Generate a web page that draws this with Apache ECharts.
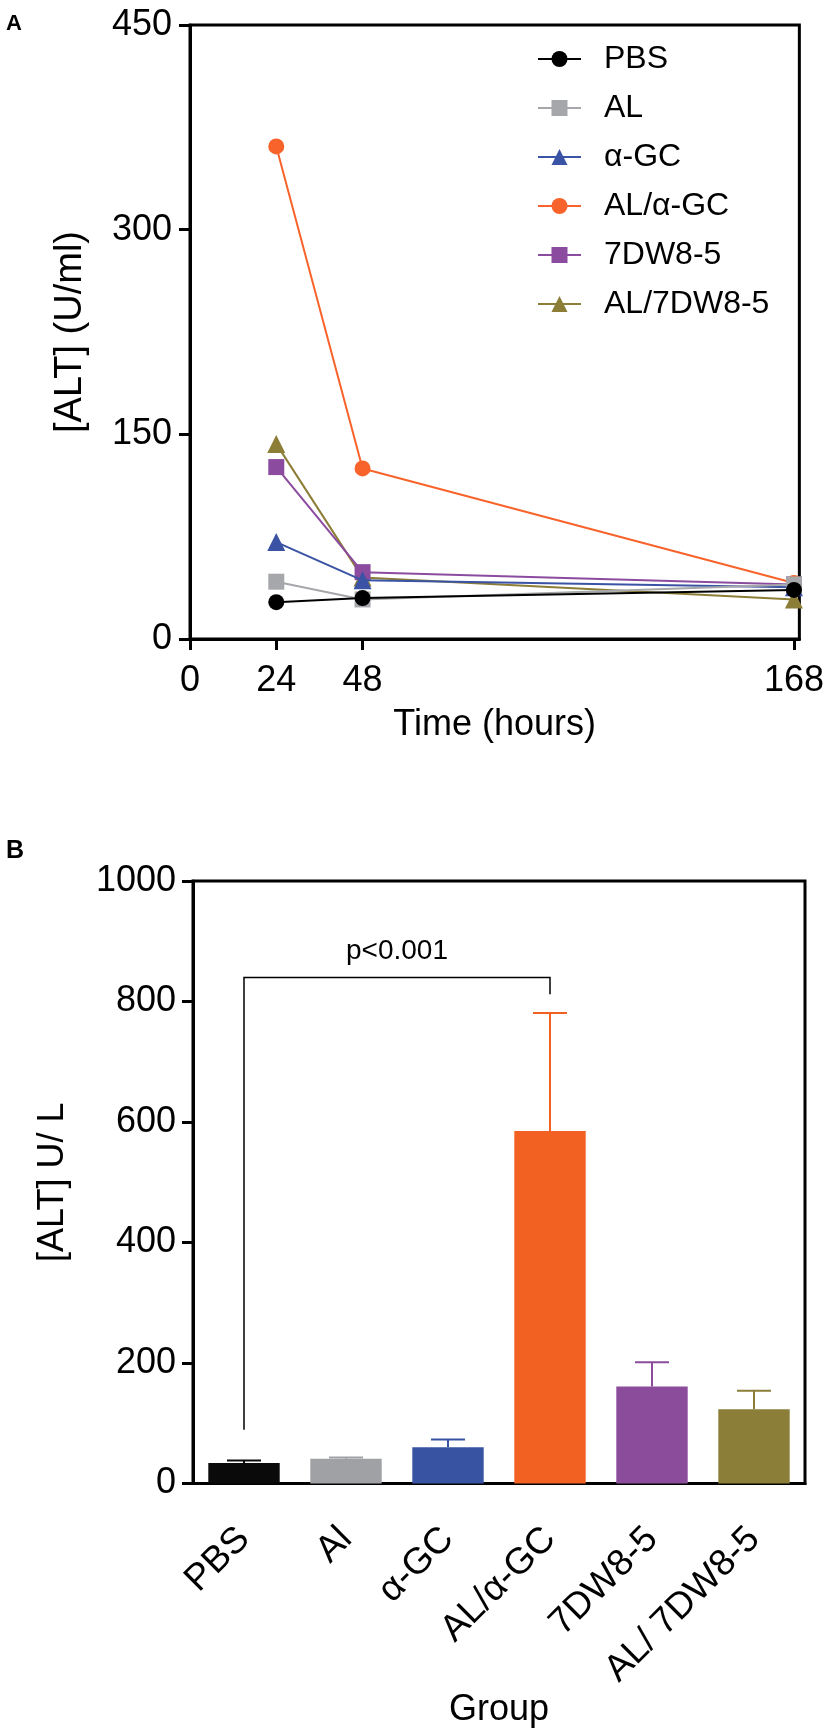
<!DOCTYPE html>
<html>
<head>
<meta charset="utf-8">
<script src="https://cdn.jsdelivr.net/npm/echarts@6/dist/echarts.min.js"></script>
<style>
  html, body { margin: 0; padding: 0; background: #fff; }
  #main { width: 827px; height: 1729px; }
</style>
</head>
<body>
<div id="main"></div>
<script type="text/javascript">
    // panel A: ALT over time
    var hours = [24, 48, 168];
    var hourTicks = [0, 24, 48, 168];
    var lineNames = ['PBS', 'AL', 'α-GC', 'AL/α-GC', '7DW8-5', 'AL/7DW8-5'];
    var pbsLine = [27, 30, 36];
    var alLine = [42, 29, 40];
    var gcLine = [71, 43, 38];
    var alGcLine = [361, 125, 41];
    var dwLine = [126, 49, 40];
    var alDwLine = [143, 45, 29];
    var lineColors = ['#000000', '#a5a7aa', '#3a53a4', '#f7632a', '#8b4b9f', '#8c7d37'];
    var lineSymbols = ['circle', 'rect', 'triangle', 'circle', 'rect', 'triangle'];

    // panel B: ALT per group
    var groups = ['PBS', 'Al', 'α-GC', 'AL/α-GC', '7DW8-5', 'AL/ 7DW8-5'];
    var groupMeans = [34, 41, 60, 585, 161, 123];
    var groupErrors = [4, 2, 13, 196, 40, 31];
    var barColors = ['#0a0a0a', '#a0a1a4', '#3953a3', '#f26122', '#8b4c9c', '#8b7e38'];
    // significance bracket: from group, to group, top, left leg end, right leg end
    var bracket = [[0, 3, 840, 89, 812]];
    var bracketText = 'p<0.001';

    var FONT = 'Liberation Sans, Arial, sans-serif';
    var lineData = [pbsLine, alLine, gcLine, alGcLine, dwLine, alDwLine];

    var myChart = echarts.init(document.getElementById('main'));

    var series = [];
    lineNames.forEach(function (name, i) {
        series.push({
            name: name,
            type: 'line',
            xAxisIndex: 0,
            yAxisIndex: 0,
            z: 10 - i,
            symbol: lineSymbols[i],
            symbolSize: lineSymbols[i] === 'triangle' ? 18 : 16,
            color: lineColors[i],
            lineStyle: { width: 2, color: lineColors[i] },
            itemStyle: { color: lineColors[i] },
            data: hours.map(function (h, k) { return [h, lineData[i][k]]; })
        });
    });

    series.push({
        type: 'bar',
        xAxisIndex: 1,
        yAxisIndex: 1,
        barWidth: '70%',
        data: groupMeans.map(function (v, i) {
            return { value: v, itemStyle: { color: barColors[i] } };
        })
    });

    // error bars (upper only)
    series.push({
        type: 'custom',
        xAxisIndex: 1,
        yAxisIndex: 1,
        z: 1,
        data: groupMeans.map(function (v, i) { return [i, v, v + groupErrors[i]]; }),
        renderItem: function (params, api) {
            var idx = api.value(0);
            var low = api.coord([idx, api.value(1)]);
            var high = api.coord([idx, api.value(2)]);
            var c = barColors[idx];
            var half = 17;
            return {
                type: 'group',
                children: [
                    { type: 'line', shape: { x1: low[0], y1: low[1], x2: high[0], y2: high[1] },
                      style: { stroke: c, lineWidth: 2 } },
                    { type: 'line', shape: { x1: high[0] - half, y1: high[1], x2: high[0] + half, y2: high[1] },
                      style: { stroke: c, lineWidth: 2 } }
                ]
            };
        }
    });

    // significance bracket
    series.push({
        type: 'custom',
        xAxisIndex: 1,
        yAxisIndex: 1,
        data: bracket,
        renderItem: function (params, api) {
            var a = api.coord([api.value(0), api.value(2)]);
            var b = api.coord([api.value(1), api.value(2)]);
            var aLow = api.coord([api.value(0), api.value(3)]);
            var bLow = api.coord([api.value(1), api.value(4)]);
            return {
                type: 'group',
                children: [
                    { type: 'polyline',
                      shape: { points: [[aLow[0], aLow[1]], [a[0], a[1]], [b[0], b[1]], [bLow[0], bLow[1]]] },
                      style: { stroke: '#000', lineWidth: 1.5, fill: null } },
                    { type: 'text',
                      style: { text: bracketText, x: (a[0] + b[0]) / 2, y: a[1] - 12,
                               textAlign: 'center', textVerticalAlign: 'bottom',
                               font: '28px ' + FONT, fill: '#000' } }
                ]
            };
        }
    });

    var axisLine = { lineStyle: { color: '#000', width: 3 } };

    option = {
        animation: false,
        backgroundColor: '#fff',
        textStyle: { fontFamily: FONT, color: '#000' },
        title: [
            { text: 'A', left: 1, top: 8, textStyle: { fontSize: 22, fontWeight: 'bold', fontFamily: FONT, color: '#000' } },
            { text: 'B', left: 1, top: 834, textStyle: { fontSize: 25, fontWeight: 'bold', fontFamily: FONT, color: '#000' } }
        ],
        legend: {
            data: lineNames,
            orient: 'vertical',
            left: 532,
            top: 38,
            itemWidth: 43,
            itemHeight: 20,
            itemGap: 17,
            textStyle: { fontSize: 32, fontFamily: FONT, color: '#000', padding: [0, 0, 0, 18] }
        },
        grid: [
            { left: 190, top: 25, width: 612, height: 614, show: true, borderColor: '#000', borderWidth: 3 },
            { left: 193, top: 881, width: 612, height: 611, show: true, borderColor: '#000', borderWidth: 3 }
        ],
        xAxis: [
            {
                gridIndex: 0,
                type: 'value',
                min: 0,
                max: 169.5,
                name: 'Time (hours)',
                nameLocation: 'middle',
                nameGap: 68,
                nameTextStyle: { fontSize: 36, fontFamily: FONT, color: '#000' },
                axisLine: axisLine,
                axisTick: { show: true, length: 11, lineStyle: { color: '#000', width: 3 }, customValues: hourTicks },
                axisLabel: { fontSize: 36, color: '#000', margin: 24, customValues: hourTicks },
                splitLine: { show: false }
            },
            {
                gridIndex: 1,
                type: 'category',
                data: groups,
                name: 'Group',
                nameLocation: 'middle',
                nameGap: 198,
                nameTextStyle: { fontSize: 36, fontFamily: FONT, color: '#000' },
                axisLine: axisLine,
                axisTick: { alignWithLabel: true, length: 11, lineStyle: { color: '#000', width: 3 } },
                axisLabel: { fontSize: 37, color: '#000', rotate: 45, margin: 50, interval: 0 }
            }
        ],
        yAxis: [
            {
                gridIndex: 0,
                type: 'value',
                min: 0,
                max: 450,
                interval: 150,
                name: '[ALT] (U/ml)',
                nameLocation: 'middle',
                nameGap: 100,
                nameTextStyle: { fontSize: 38, fontFamily: FONT, color: '#000' },
                axisLine: { show: true, lineStyle: { color: '#000', width: 3 } },
                axisTick: { show: true, length: 11, lineStyle: { color: '#000', width: 3 } },
                axisLabel: { fontSize: 36, color: '#000', margin: 18 },
                splitLine: { show: false }
            },
            {
                gridIndex: 1,
                type: 'value',
                min: 0,
                max: 1000,
                interval: 200,
                name: '[ALT] U/ L',
                nameLocation: 'middle',
                nameGap: 122,
                nameTextStyle: { fontSize: 36, fontFamily: FONT, color: '#000' },
                axisLine: { show: true, lineStyle: { color: '#000', width: 3 } },
                axisTick: { show: true, length: 11, lineStyle: { color: '#000', width: 3 } },
                axisLabel: { fontSize: 36, color: '#000', margin: 17, formatter: function (v) { return String(v); } },
                splitLine: { show: false }
            }
        ],
        series: series
    };
    myChart.setOption(option);
</script>
</body>
</html>
